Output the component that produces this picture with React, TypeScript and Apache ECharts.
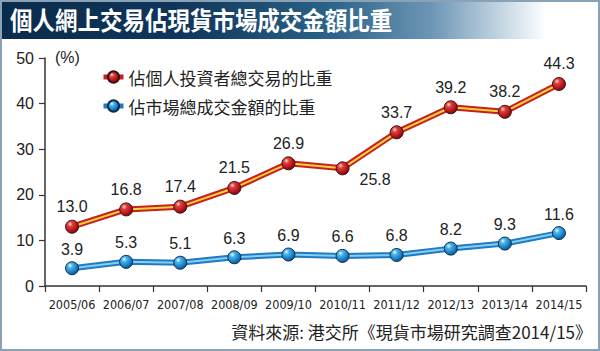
import React, { useEffect, useRef } from "react";
import * as echarts from "echarts";

const categories = ["2005/06", "2006/07", "2007/08", "2008/09", "2009/10", "2010/11", "2011/12", "2012/13", "2013/14", "2014/15"];
const retailShare = [13.0, 16.8, 17.4, 21.5, 26.9, 25.8, 33.7, 39.2, 38.2, 44.3];
const marketShare = [3.9, 5.3, 5.1, 6.3, 6.9, 6.6, 6.8, 8.2, 9.3, 11.6];
const yTicks = [0, 10, 20, 30, 40, 50];
const seriesNames = ["佔個人投資者總交易的比重", "佔市場總成交金額的比重"];
const title = "個人網上交易佔現貨市場成交金額比重";
const source = "資料來源: 港交所《現貨市場研究調查2014/15》";

const NUM_FONT = "'Liberation Sans', Arial, sans-serif";
const CJK_FONT = "'Noto Sans CJK TC', 'Noto Sans CJK SC', sans-serif";

export default function App() {
  const ref = useRef<HTMLDivElement>(null);
  useEffect(() => {
    if (!ref.current) return;
    const chart = echarts.init(ref.current, null, { renderer: "svg" });
    const redBall = new echarts.graphic.RadialGradient(0.35, 0.3, 0.75, [
      { offset: 0, color: "#ffe0d8" },
      { offset: 0.25, color: "#e0413a" },
      { offset: 0.7, color: "#b3141a" },
      { offset: 1, color: "#6d0a0d" },
    ]);
    const blueBall = new echarts.graphic.RadialGradient(0.35, 0.3, 0.75, [
      { offset: 0, color: "#eefaff" },
      { offset: 0.25, color: "#4cb5ea" },
      { offset: 0.7, color: "#1a7cc4" },
      { offset: 1, color: "#0b4f86" },
    ]);
    const labelBase = {
      show: true,
      fontFamily: NUM_FONT,
      fontSize: 16,
      color: "#222",
      formatter: (p: any) => Number(p.value).toFixed(1),
    };
    const option: any = {
      animation: false,
      backgroundColor: "#ffffff",
      grid: { left: 45, right: 14, top: 58, bottom: 65, containLabel: false },
      legend: {
        orient: "vertical",
        left: 96,
        top: 62,
        itemWidth: 20,
        itemHeight: 14,
        itemGap: 9,
        selectedMode: false,
        textStyle: { fontFamily: CJK_FONT, fontSize: 17, color: "#222", lineHeight: 20 },
        data: [
          { name: seriesNames[0], lineStyle: { color: "#c8201e", width: 5, opacity: 1 } },
          { name: seriesNames[1], lineStyle: { color: "#1f7bc4", width: 5, opacity: 1 } },
        ],
      },
      xAxis: {
        type: "category",
        data: categories,
        boundaryGap: true,
        axisLine: { show: true, lineStyle: { color: "#333", width: 1.5 } },
        axisTick: { show: true, length: 6, lineStyle: { color: "#333", width: 1.2 } },
        axisLabel: {
          interval: 0,
          fontFamily: "'Liberation Sans Narrow', 'DejaVu Sans Condensed', 'Liberation Sans', sans-serif",
          fontSize: 12.5,
          color: "#222",
          margin: 12,
        },
        splitLine: { show: false },
      },
      yAxis: {
        type: "value",
        min: yTicks[0],
        max: yTicks[yTicks.length - 1],
        interval: 10,
        axisLine: { show: true, lineStyle: { color: "#333", width: 1.5 } },
        axisTick: { show: true, length: 6, lineStyle: { color: "#333", width: 1.2 } },
        axisLabel: { fontFamily: NUM_FONT, fontSize: 16, color: "#222", margin: 11 },
        splitLine: { show: false },
      },
      series: [
        {
          type: "line",
          name: "retail-outer",
          data: retailShare,
          symbol: "none",
          z: 1,
          silent: true,
          lineStyle: { color: "#c8201e", width: 6 },
        },
        {
          type: "line",
          name: "retail-inner",
          data: retailShare,
          symbol: "none",
          z: 2,
          silent: true,
          lineStyle: { color: "#f7d23c", width: 2 },
        },
        {
          type: "line",
          name: "market-outer",
          data: marketShare,
          symbol: "none",
          z: 1,
          silent: true,
          lineStyle: { color: "#1f7bc4", width: 6 },
        },
        {
          type: "line",
          name: "market-inner",
          data: marketShare,
          symbol: "none",
          z: 2,
          silent: true,
          lineStyle: { color: "#86cdf2", width: 2 },
        },
        {
          type: "line",
          name: seriesNames[0],
          z: 3,
          data: retailShare.map((v, i) =>
            i === 5
              ? { value: v, label: { position: "right", distance: 10, offset: [0, 11] } }
              : v
          ),
          symbol: "circle",
          symbolSize: 13,
          lineStyle: { width: 0, color: "#c8201e" },
          itemStyle: { color: redBall, borderColor: "#3a1414", borderWidth: 1 },
          label: { ...labelBase, position: "top", distance: 5 },
        },
        {
          type: "line",
          name: seriesNames[1],
          z: 3,
          data: marketShare,
          symbol: "circle",
          symbolSize: 13,
          lineStyle: { width: 0, color: "#1f7bc4" },
          itemStyle: { color: blueBall, borderColor: "#0c2f4f", borderWidth: 1 },
          label: { ...labelBase, position: "top", distance: 4 },
        },
      ],
      graphic: [
        {
          type: "rect",
          z: -1,
          shape: { x: 0, y: 0, width: 600, height: 39 },
          style: {
            fill: new echarts.graphic.LinearGradient(0, 0, 1, 0, [
              { offset: 0, color: "#0b2b4b" },
              { offset: 0.3, color: "#0f365a" },
              { offset: 0.55, color: "#2b6288" },
              { offset: 0.72, color: "#6d96b5" },
              { offset: 0.83, color: "#c0d3e1" },
              { offset: 0.91, color: "#ffffff" },
            ]),
          },
        },
        {
          type: "text",
          left: 10,
          top: 6,
          scaleY: 1.12,
          style: {
            text: title,
            fill: "#ffffff",
            fontFamily: CJK_FONT,
            fontWeight: "bold",
            fontSize: 22.5,
          },
        },
        {
          type: "rect",
          shape: { x: 1, y: 1, width: 598, height: 349 },
          style: { fill: "none", stroke: "#8aa2b6", lineWidth: 2 },
        },
        {
          type: "text",
          left: 55,
          top: 49,
          style: { text: "(%)", fill: "#222", fontFamily: NUM_FONT, fontSize: 16 },
        },
        {
          type: "text",
          right: 8,
          top: 323,
          style: { text: source, fill: "#222", fontFamily: CJK_FONT, fontSize: 17 },
        },
      ],
    };
    chart.setOption(option);
    return () => chart.dispose();
  }, []);
  return <div ref={ref} style={{ width: 600, height: 351, position: "absolute", left: 0, top: 0 }} />;
}
